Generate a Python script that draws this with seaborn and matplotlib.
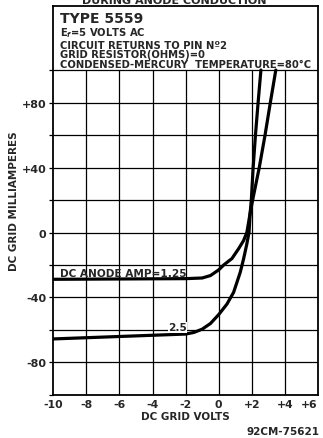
import numpy as np
import pandas as pd
import matplotlib
matplotlib.use('Agg')
import matplotlib.pyplot as plt
import seaborn as sns

# curve data (grid volts vs grid milliamperes)
volts_125 = [-10, -6, -2, -1, -0.5, 0, 0.3, 0.8, 1.2, 1.5, 1.7, 1.9, 2.05, 2.45, 2.8, 3.12, 3.45]
ma_125 = [-28.8, -28.6, -28.4, -28, -26.5, -23, -20, -16, -10, -5, 0, 12, 20, 40, 60, 80, 100]

volts_25 = [-10, -6, -2, -1.5, -1, -0.5, 0, 0.5, 0.9, 1.3, 1.5, 1.7, 1.83, 1.9, 1.97, 2.08, 2.22, 2.38, 2.55]
ma_25 = [-65.5, -64, -62.5, -61.5, -59.5, -56, -50.5, -44, -36.8, -24.5, -16.3, -7, 0, 12, 20, 40, 60, 80, 100]

x_ticks = [-10, -8, -6, -4, -2, 0, 2, 4, 6]
x_labels = ['-10', '-8', '-6', '-4', '-2', '0', '+2', '+4', '+6']
y_ticks = [-100, -80, -60, -40, -20, 0, 20, 40, 60, 80, 100]
y_labels = ['', '-80', '', '-40', '', '0', '', '+40', '', '+80', '']

info_lines = [
    'CIRCUIT RETURNS TO PIN N\u00ba2',
    'GRID RESISTOR(OHMS)=0',
    'CONDENSED-MERCURY  TEMPERATURE=80\u00b0C',
]

df = pd.concat([
    pd.DataFrame({'volts': volts_125, 'ma': ma_125, 'amp': '1.25'}),
    pd.DataFrame({'volts': volts_25, 'ma': ma_25, 'amp': '2.5'}),
])

sns.set_style('white')
plt.rcParams['font.family'] = ['DejaVu Sans']
plt.rcParams['font.weight'] = 'bold'

fig = plt.figure(figsize=(3.23, 4.39), dpi=100)
ax = fig.add_axes([0.165, 0.098, 0.8195, 0.886])

y_top = 139.4
ax.set_xlim(-10, 6)
ax.set_ylim(-100, y_top)

# grid only inside the -100..+100 region
for v in x_ticks[1:-1]:
    ax.plot([v, v], [-100, 100], color='black', lw=0.9, zorder=1)
for m in y_ticks[1:]:
    ax.plot([-10, 6], [m, m], color='black', lw=0.9, zorder=1)

sns.lineplot(data=df, x='volts', y='ma', units='amp', estimator=None, sort=False,
             color='black', lw=2.3, ax=ax, zorder=3)

for s in ax.spines.values():
    s.set_color('black')
    s.set_linewidth(1.3)

ax.set_xticks(x_ticks)
ax.set_xticklabels(x_labels, fontsize=7.8, fontweight='bold')
ax.get_xticklabels()[-1].set_horizontalalignment('right')
ax.set_yticks(y_ticks)
ax.set_yticklabels(y_labels, fontsize=8, fontweight='bold')
ax.tick_params(axis='y', which='major', left=True, length=3, width=0.9, pad=2, color='black')
ax.tick_params(axis='x', which='major', bottom=False, length=0, pad=3)

ax.set_xlabel('DC GRID VOLTS', fontsize=7.5, fontweight='bold', labelpad=1.5)
ax.set_ylabel('DC GRID MILLIAMPERES', fontsize=7.5, fontweight='bold', labelpad=2)

# header text inside the box
ax.text(-9.6, 129.8, 'TYPE 5559', fontsize=10, fontweight='bold', va='baseline')
ax.text(-9.6, 121.3, r'E$_{\mathit{f}}$=5 VOLTS AC', fontsize=7.2, fontweight='bold', va='baseline')
for i, line in enumerate(info_lines):
    ax.text(-9.6, 113.8 - i * 5.9, line, fontsize=7.2, fontweight='bold', va='baseline')

# curve labels
ax.text(-9.6, -26.6, 'DC ANODE AMP=1.25', fontsize=7.6, fontweight='bold', va='baseline', zorder=4)
ax.text(-2.5, -60.2, '2.5', fontsize=7.6, fontweight='bold', va='baseline', ha='center', zorder=4,
        bbox=dict(facecolor='white', edgecolor='none', pad=0.3))

fig.text(0.54, 0.991, 'DURING ANODE CONDUCTION', fontsize=8, fontweight='bold', ha='center', va='baseline')
fig.text(0.99, 0.005, '92CM-75621', fontsize=7.5, fontweight='bold', ha='right', va='bottom')

fig.savefig('out.png', dpi=100)
